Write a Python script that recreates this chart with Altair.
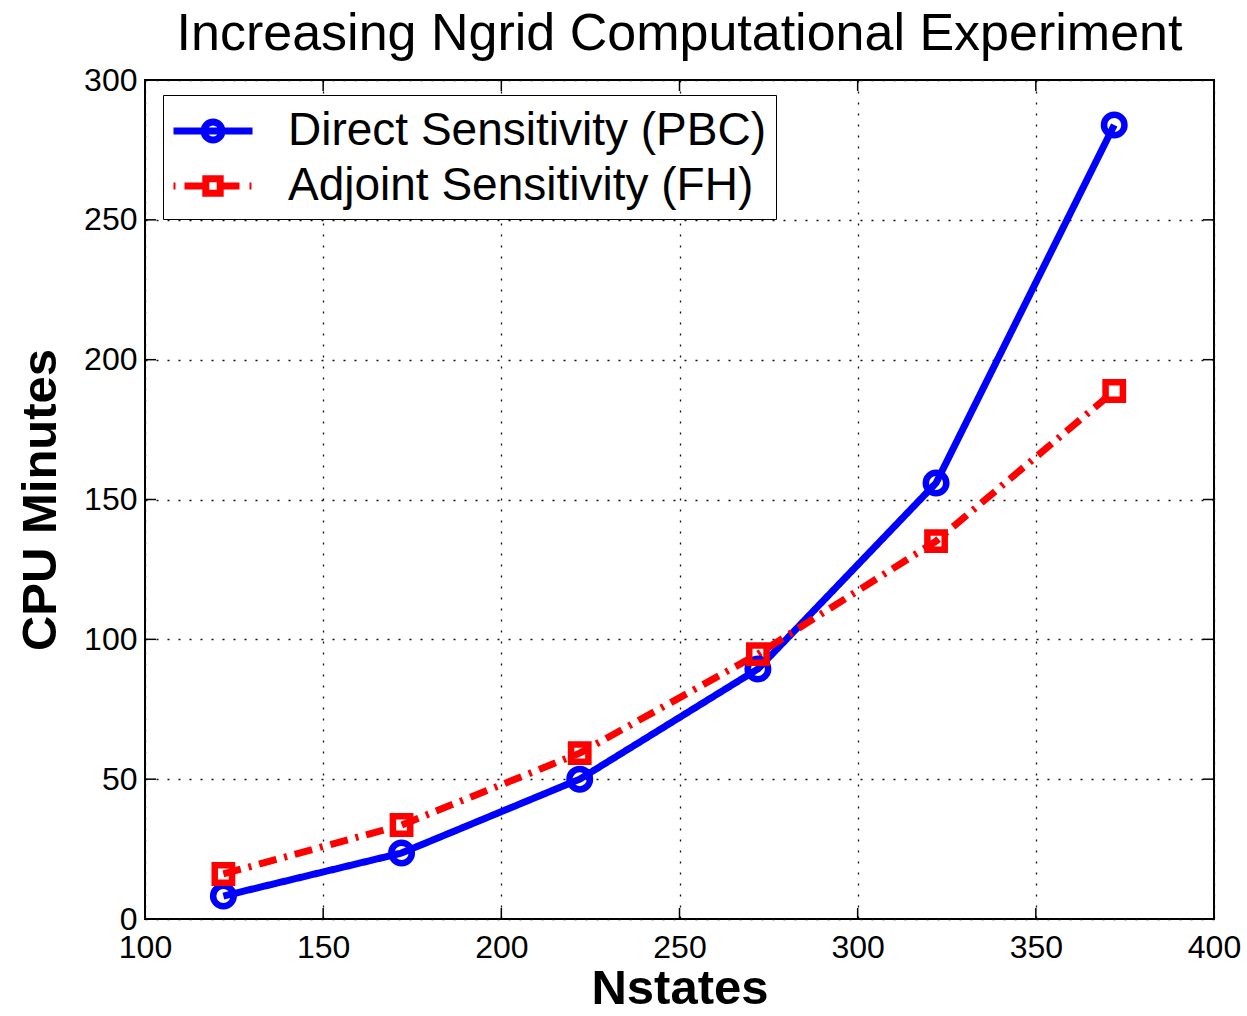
import altair as alt
import pandas as pd

# ---- data ----
nstates = [122, 172, 222, 272, 322, 372]
direct_minutes = [8.2, 23.6, 50.0, 89.4, 155.9, 283.9]
adjoint_minutes = [16.1, 33.6, 59.3, 94.7, 135.1, 188.8]
series_names = ["Direct Sensitivity (PBC)", "Adjoint Sensitivity (FH)"]
x_ticks = [100, 150, 200, 250, 300, 350, 400]
y_ticks = [0, 50, 100, 150, 200, 250, 300]

rows = []
for name, vals in zip(series_names, [direct_minutes, adjoint_minutes]):
    for xv, yv in zip(nstates, vals):
        rows.append({"nstates": xv, "minutes": yv, "series": name})
df = pd.DataFrame(rows)

W, H = 1069, 839
FONT = "Liberation Sans"
BLUE, RED = "#0000FF", "#FF0000"

xs = alt.Scale(domain=[100, 400], nice=False, zero=False)
ys = alt.Scale(domain=[0, 300], nice=False, zero=False)
color = alt.Color("series:N", scale=alt.Scale(domain=series_names, range=[BLUE, RED]), legend=None)

x_axis = alt.Axis(values=x_ticks, title="Nstates", grid=True, domain=False, ticks=False,
                  labelFontSize=32, labelFont=FONT, labelColor="black", labelPadding=13,
                  labelFlush=False, labelOverlap=False,
                  titleFontSize=49, titleFont=FONT, titleFontWeight="bold", titleColor="black",
                  titleY=84, titleBaseline="alphabetic",
                  gridDash=[2, 9], gridColor="#111111", gridWidth=1.3, gridOpacity=1)
y_axis = alt.Axis(values=y_ticks, title="CPU Minutes", grid=True, domain=False, ticks=False,
                  labelFontSize=32, labelFont=FONT, labelColor="black", labelPadding=8,
                  labelFlush=False, labelOverlap=False,
                  titleFontSize=49, titleFont=FONT, titleFontWeight="bold", titleColor="black",
                  titleAngle=270, titleX=-90, titleY=H / 2, titleAlign="center",
                  titleBaseline="alphabetic",
                  gridDash=[2, 9], gridColor="#111111", gridWidth=1.3, gridOpacity=1)

base = alt.Chart(df).encode(
    x=alt.X("nstates:Q", scale=xs, axis=x_axis),
    y=alt.Y("minutes:Q", scale=ys, axis=y_axis),
    color=color,
)

lines = base.mark_line(strokeWidth=7).encode(
    strokeDash=alt.StrokeDash("series:N",
                              scale=alt.Scale(domain=series_names, range=[[1, 0], [18, 8, 3, 8]]),
                              legend=None)
)

points = base.mark_point(filled=False, strokeWidth=6.5, opacity=1).encode(
    shape=alt.Shape("series:N", scale=alt.Scale(domain=series_names, range=["circle", "square"]),
                    legend=None),
    size=alt.Size("series:N", scale=alt.Scale(domain=series_names, range=[420, 300]), legend=None),
)

# legend symbols: line stub with marker, as custom paths (unit = sqrt(symbolSize)/2 px)
blue_path = "M-1.756,0H1.756M-0.4,0A0.4,0.4,0,1,1,0.4,0A0.4,0.4,0,1,1,-0.4,0"
red_path = ("M-1.756,0H-1.667M-1.267,0H-0.467M0.422,0H1.178M1.622,0H1.711"
            "M-0.32,-0.32H0.32V0.32H-0.32Z")

leg = alt.Legend(title=None, orient="none", legendX=18, legendY=15,
                 symbolSize=2025, symbolStrokeWidth=7, symbolOpacity=1,
                 symbolFillColor="transparent", symbolOffset=14,
                 labelFontSize=46, labelFont=FONT, labelColor="black",
                 labelOffset=49, labelLimit=1000,
                 rowPadding=6, padding=10,
                 strokeColor="black", fillColor="white")

legend_layer = alt.Chart(df).mark_point(filled=False, strokeWidth=7, opacity=0).encode(
    x=alt.X("nstates:Q", scale=xs, axis=x_axis),
    y=alt.Y("minutes:Q", scale=ys, axis=y_axis),
    color=alt.Color("series:N", scale=alt.Scale(domain=series_names, range=[BLUE, RED]), legend=leg),
    shape=alt.Shape("series:N",
                    scale=alt.Scale(domain=series_names, range=[blue_path, red_path]),
                    legend=leg),
)

tick_df = pd.DataFrame({"t": x_ticks})
ytick_df = pd.DataFrame({"t": y_ticks})
TL = 11
xt_bottom = alt.Chart(tick_df).mark_rule(color="black", strokeWidth=1.5).encode(
    x=alt.X("t:Q", scale=xs, axis=x_axis), y=alt.value(H), y2=alt.value(H - TL))
xt_top = alt.Chart(tick_df).mark_rule(color="black", strokeWidth=1.5).encode(
    x=alt.X("t:Q", scale=xs, axis=x_axis), y=alt.value(0), y2=alt.value(TL))
yt_left = alt.Chart(ytick_df).mark_rule(color="black", strokeWidth=1.5).encode(
    y=alt.Y("t:Q", scale=ys, axis=y_axis), x=alt.value(0), x2=alt.value(TL))
yt_right = alt.Chart(ytick_df).mark_rule(color="black", strokeWidth=1.5).encode(
    y=alt.Y("t:Q", scale=ys, axis=y_axis), x=alt.value(W - TL), x2=alt.value(W))

chart = alt.layer(lines, points, legend_layer, xt_bottom, xt_top, yt_left, yt_right).resolve_scale(
    shape="independent", color="independent"
).properties(
    width=W, height=H,
    title=alt.TitleParams("Increasing Ngrid Computational Experiment", fontSize=52, font=FONT,
                          fontWeight="normal", color="black", anchor="middle",
                          baseline="top", offset=3, frame="group"),
    autosize=alt.AutoSizeParams(type="none"),
    padding={"left": 145, "top": 80, "right": 33, "bottom": 97},
).configure(background="white").configure_view(stroke="black", strokeWidth=2)

chart.save("out.html", embed_options={"renderer": "svg", "actions": False})
